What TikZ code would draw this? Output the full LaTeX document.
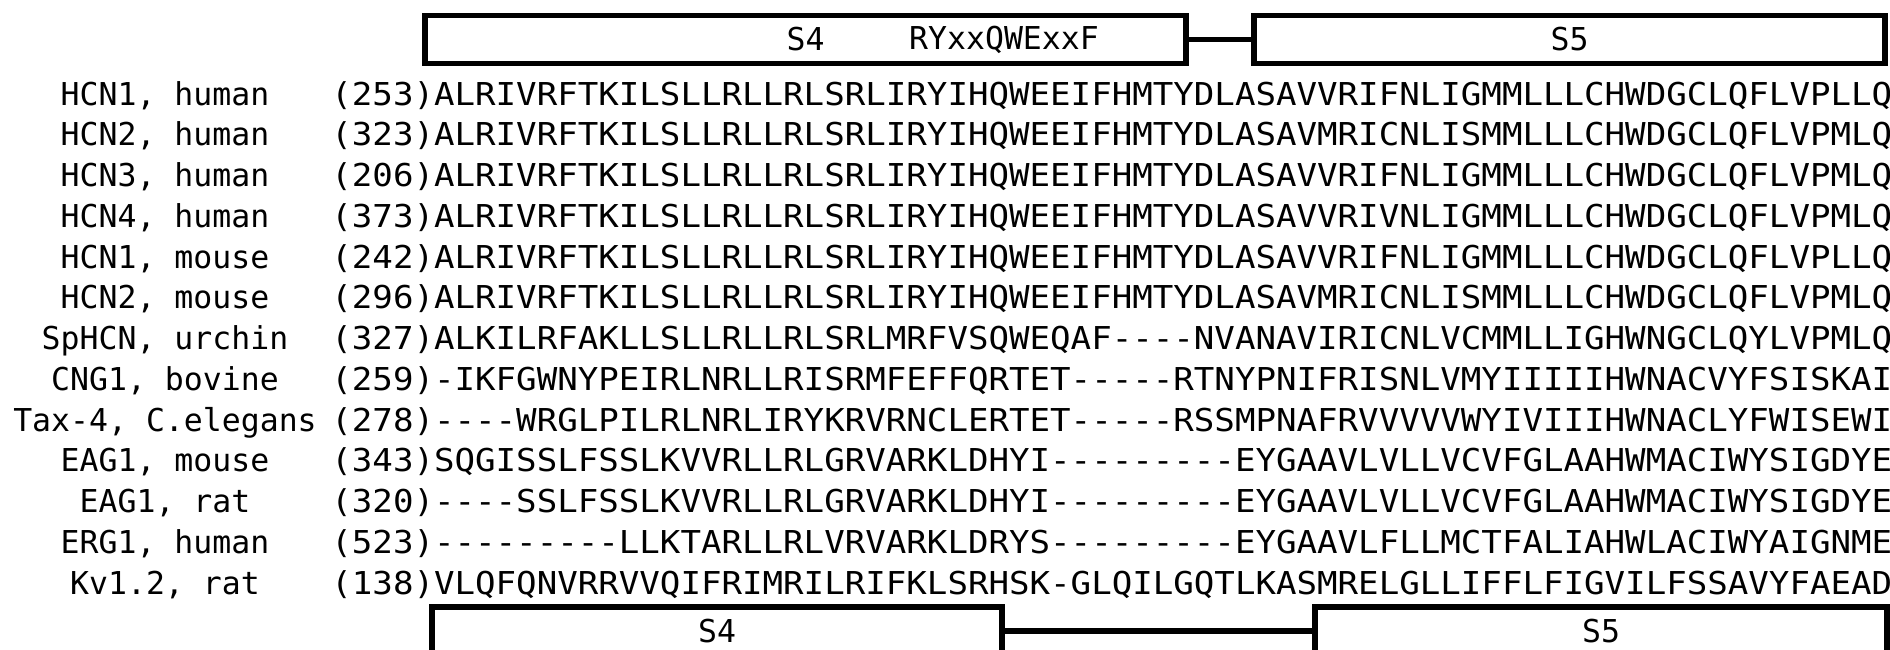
\documentclass[tikz,border=0pt]{standalone}
\usepackage{fontspec}
\setmonofont[FakeStretch=1.083]{DejaVu Sans Mono}
\newfontfamily\namefont{DejaVu Sans Mono}
\newcommand\alnsize{\fontsize{15.75pt}{18pt}\selectfont}

\begin{document}
\begin{tikzpicture}[
x=0.5pt, y=-0.5pt,
seqname/.style={font=\namefont\alnsize, inner sep=0pt, anchor=base},
seqline/.style={font=\ttfamily\alnsize, inner sep=0pt, anchor=base west},
segbox/.style={draw, line width=2.7pt, minimum height=24pt, inner sep=0pt, font=\namefont\alnsize},
link/.style={line width=2.7pt}
]
\clip (0,0) rectangle (1890,649);

% aligned rows
\foreach \name/\num/\seq [count=\i from 0] in {
  {HCN1, human}/253/ALRIVRFTKILSLLRLLRLSRLIRYIHQWEEIFHMTYDLASAVVRIFNLIGMMLLLCHWDGCLQFLVPLLQ,
  {HCN2, human}/323/ALRIVRFTKILSLLRLLRLSRLIRYIHQWEEIFHMTYDLASAVMRICNLISMMLLLCHWDGCLQFLVPMLQ,
  {HCN3, human}/206/ALRIVRFTKILSLLRLLRLSRLIRYIHQWEEIFHMTYDLASAVVRIFNLIGMMLLLCHWDGCLQFLVPMLQ,
  {HCN4, human}/373/ALRIVRFTKILSLLRLLRLSRLIRYIHQWEEIFHMTYDLASAVVRIVNLIGMMLLLCHWDGCLQFLVPMLQ,
  {HCN1, mouse}/242/ALRIVRFTKILSLLRLLRLSRLIRYIHQWEEIFHMTYDLASAVVRIFNLIGMMLLLCHWDGCLQFLVPLLQ,
  {HCN2, mouse}/296/ALRIVRFTKILSLLRLLRLSRLIRYIHQWEEIFHMTYDLASAVMRICNLISMMLLLCHWDGCLQFLVPMLQ,
  {SpHCN, urchin}/327/ALKILRFAKLLSLLRLLRLSRLMRFVSQWEQAF----NVANAVIRICNLVCMMLLIGHWNGCLQYLVPMLQ,
  {CNG1, bovine}/259/-IKFGWNYPEIRLNRLLRISRMFEFFQRTET-----RTNYPNIFRISNLVMYIIIIIHWNACVYFSISKAI,
  {Tax-4, C.elegans}/278/----WRGLPILRLNRLIRYKRVRNCLERTET-----RSSMPNAFRVVVVVWYIVIIIHWNACLYFWISEWI,
  {EAG1, mouse}/343/SQGISSLFSSLKVVRLLRLGRVARKLDHYI---------EYGAAVLVLLVCVFGLAAHWMACIWYSIGDYE,
  {EAG1, rat}/320/----SSLFSSLKVVRLLRLGRVARKLDHYI---------EYGAAVLVLLVCVFGLAAHWMACIWYSIGDYE,
  {ERG1, human}/523/---------LLKTARLLRLVRVARKLDRYS---------EYGAAVLFLLMCTFALIAHWLACIWYAIGNME,
  {Kv1.2, rat}/138/VLQFQNVRRVVQIFRIMRILRIFKLSRHSK-GLQILGQTLKASMRELGLLIFFLFIGVILFSSAVYFAEAD}
{
  \node[seqname] (name\i) at (165,{105+40.75*\i}) {\name};
  \node[seqline] (seq\i) at (331,{105+40.75*\i}) {(\num)\seq};
}

% segments above (HCN) and below (Kv)
\node[segbox, minimum width=380.5pt] (s4top) at (805.5,39.5) {S4};
\node[font=\namefont\alnsize, inner sep=0pt] (motif) at (1004,39.5) {RYxxQWExxF};
\node[segbox, minimum width=315.5pt] (s5top) at (1569.5,39.5) {S5};
\draw[link] (s4top.east) -- (s5top.west);

\node[segbox, minimum width=285pt] (s4bot) at (717,631) {S4};
\node[segbox, minimum width=286pt] (s5bot) at (1601,631) {S5};
\draw[link] (s4bot.east) -- (s5bot.west);
\end{tikzpicture}
\end{document}
